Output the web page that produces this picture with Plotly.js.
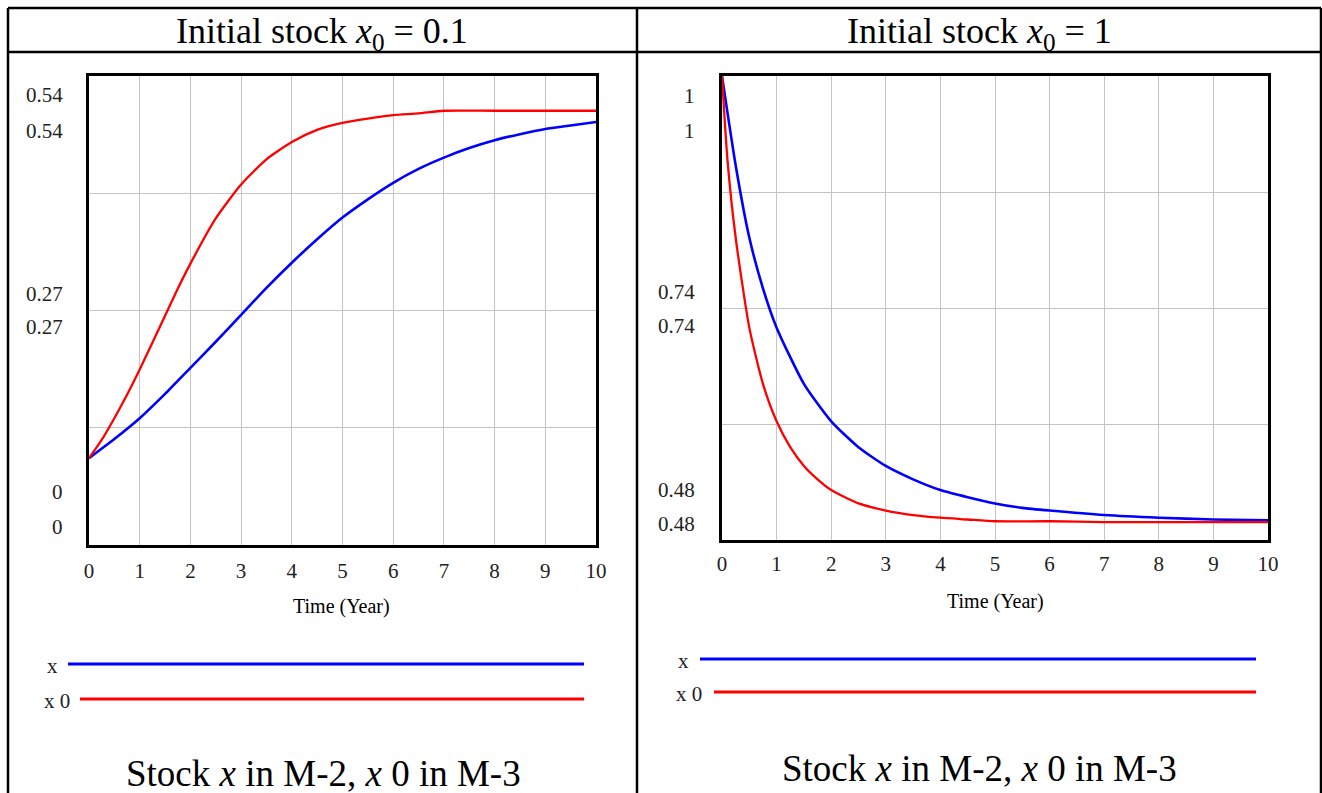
<!DOCTYPE html>
<html>
<head>
<meta charset="utf-8">
<script src="https://cdn.plot.ly/plotly-3.0.1.min.js"></script>
<style>
  html, body { margin: 0; padding: 0; background: #fff; }
  #chart { width: 1322px; height: 793px; }
</style>
</head>
<body>
<div id="chart"></div>
<script>
// ---------------- DATA ----------------
// Left panel: initial stock x0 = 0.1
const timeLeftRed  = [0, 0.25, 0.5, 0.75, 1, 1.25, 1.5, 1.75, 2, 2.5, 3, 3.5, 4, 4.5, 5, 5.5, 6, 6.5, 7, 8, 9, 10];
const leftX0       = [0.100, 0.121, 0.146, 0.173, 0.202, 0.233, 0.264, 0.295, 0.324, 0.376, 0.415, 0.444, 0.464, 0.478, 0.486, 0.491, 0.495, 0.497, 0.500, 0.500, 0.500, 0.500];
const timeLeftBlue = [0, 0.5, 1, 1.5, 2, 2.5, 3, 3.5, 4, 4.5, 5, 5.5, 6, 6.5, 7, 7.5, 8, 8.5, 9, 9.5, 10];
const leftX        = [0.100, 0.122, 0.146, 0.174, 0.204, 0.234, 0.265, 0.296, 0.325, 0.352, 0.377, 0.398, 0.417, 0.433, 0.446, 0.457, 0.466, 0.473, 0.479, 0.483, 0.487];

// Right panel: initial stock x0 = 1
const timeRightRed  = [0, 0.1, 0.25, 0.5, 0.75, 1, 1.25, 1.5, 1.75, 2, 2.5, 3, 3.5, 4, 4.5, 5, 6, 7, 8, 9, 10];
const rightX0       = [1.000, 0.906, 0.819, 0.718, 0.655, 0.613, 0.584, 0.563, 0.548, 0.536, 0.521, 0.513, 0.508, 0.505, 0.503, 0.501, 0.501, 0.500, 0.500, 0.500, 0.500];
const timeRightBlue = [0, 0.25, 0.5, 0.75, 1, 1.5, 2, 2.5, 3, 3.5, 4, 4.5, 5, 5.5, 6, 7, 8, 9, 10];
const rightX        = [1.000, 0.900, 0.819, 0.762, 0.718, 0.655, 0.613, 0.584, 0.563, 0.548, 0.536, 0.528, 0.521, 0.516, 0.513, 0.508, 0.505, 0.503, 0.502];

// Tick labels
const xTickVals      = [0, 1, 2, 3, 4, 5, 6, 7, 8, 9, 10];
const leftYLabels    = ["0.54", "0.54", "0.27", "0.27", "0", "0"];
const rightYLabels   = ["1", "1", "0.74", "0.74", "0.48", "0.48"];
const leftYRange     = [0, 0.54];
const rightYRange    = [0.48, 1];
const leftGridVals   = [0, 0.135, 0.27, 0.405, 0.54];
const rightGridVals  = [0.48, 0.61, 0.74, 0.87, 1];

// Texts
const seriesNames   = ["x", "x 0"];
const headerLeft    = "Initial stock <i>x</i><sub>0</sub> = 0.1";
const headerRight   = "Initial stock <i>x</i><sub>0</sub> = 1";
const captionText   = "Stock <i>x</i> in M-2, <i>x</i> 0 in M-3";
const xTitleText    = "Time (Year)";

// ---------------- LAYOUT HELPERS ----------------
const W = 1322, H = 793;
const px = v => v / W;
const py = v => 1 - v / H;

const BLUE = "#0000ff", RED = "#ff0000";
const serif = "Liberation Serif, Times New Roman, serif";
const tickFont = { family: serif, size: 21, color: "#222" };

const traces = [
  { x: timeLeftBlue, y: leftX, xaxis: "x", yaxis: "y", mode: "lines", name: seriesNames[0],
    line: { color: BLUE, width: 2.6, shape: "spline", smoothing: 0.6 }, showlegend: false, hoverinfo: "skip" },
  { x: timeLeftRed, y: leftX0, xaxis: "x", yaxis: "y", mode: "lines", name: seriesNames[1],
    line: { color: RED, width: 2.3, shape: "spline", smoothing: 0.6 }, showlegend: false, hoverinfo: "skip" },
  { x: timeRightBlue, y: rightX, xaxis: "x2", yaxis: "y2", mode: "lines", name: seriesNames[0],
    line: { color: BLUE, width: 2.6, shape: "spline", smoothing: 0.6 }, showlegend: false, hoverinfo: "skip" },
  { x: timeRightRed, y: rightX0, xaxis: "x2", yaxis: "y2", mode: "lines", name: seriesNames[1],
    line: { color: RED, width: 2.3, shape: "spline", smoothing: 0.6 }, showlegend: false, hoverinfo: "skip" }
];

function xAxis(domain, anchor, ticklen) {
  return {
    domain: domain, anchor: anchor, range: [0, 10],
    tickmode: "array", tickvals: xTickVals, ticktext: xTickVals.map(String),
    showgrid: true, gridcolor: "#c4c4c4", gridwidth: 1, zeroline: false,
    showline: true, mirror: true, linecolor: "#000", linewidth: 3,
    ticks: "outside", ticklen: ticklen, tickcolor: "rgba(0,0,0,0)",
    tickfont: tickFont, fixedrange: true
  };
}
function yAxis(domain, anchor, range, grid) {
  return {
    domain: domain, anchor: anchor, range: range,
    tickmode: "array", tickvals: grid, showticklabels: false,
    showgrid: true, gridcolor: "#c4c4c4", gridwidth: 1, zeroline: false,
    showline: true, mirror: true, linecolor: "#000", linewidth: 3,
    ticks: "", fixedrange: true
  };
}

// Panel geometry (pixels)
const L = { x0: 89, x1: 596, y0: 76, y1: 545 };
const R = { x0: 722, x1: 1268, y0: 76, y1: 540 };

const annotations = [];
function ann(text, x, y, size, xanchor, extra) {
  annotations.push(Object.assign({
    text: text, xref: "paper", yref: "paper", x: px(x), y: py(y),
    xanchor: xanchor || "center", yanchor: "middle", showarrow: false,
    font: { family: serif, size: size, color: "#000" }
  }, extra || {}));
}

// headers
ann(headerLeft, 322, 34, 36);
ann(headerRight, 979, 34, 36);
// captions
ann(captionText, 323, 773, 37);
ann(captionText, 979, 768, 37);
// axis titles
ann(xTitleText, 342, 606, 20);
ann(xTitleText, 995, 601, 20);
// y tick labels (stacked, one per series)
const leftYLabelPos  = [95, 131, 294, 327, 492, 527];
const rightYLabelPos = [96, 131, 292, 326, 490, 524];
leftYLabels.forEach((t, i) => ann(t, 65, leftYLabelPos[i], 21, "right", { font: tickFont }));
rightYLabels.forEach((t, i) => ann(t, 697, rightYLabelPos[i], 21, "right", { font: tickFont }));
// legend labels
ann(seriesNames[0], 52, 666, 21, "center", { font: tickFont });
ann(seriesNames[1], 57, 701, 21, "center", { font: tickFont });
ann(seriesNames[0], 684, 661, 21, "center", { font: tickFont });
ann(seriesNames[1], 689, 694, 21, "center", { font: tickFont });

// table lines + legend swatches
const shapes = [];
function line(x0, y0, x1, y1, color, width) {
  shapes.push({ type: "line", xref: "paper", yref: "paper",
    x0: px(x0), y0: py(y0), x1: px(x1), y1: py(y1),
    line: { color: color, width: width } });
}
line(8, 8, 1321, 8, "#000", 2.5);
line(8, 52, 1321, 52, "#000", 2.5);
line(8, 8, 8, 793, "#000", 2.5);
line(1321, 8, 1321, 793, "#000", 2.5);
line(637, 8, 637, 793, "#000", 2.5);
// legend lines
line(68, 664, 584, 664, BLUE, 3);
line(80, 699, 584, 699, RED, 3);
line(700, 659, 1256, 659, BLUE, 3);
line(714, 692, 1256, 692, RED, 3);

const layout = {
  width: W, height: H,
  margin: { l: 0, r: 0, t: 0, b: 0 },
  paper_bgcolor: "#fff", plot_bgcolor: "#fff",
  showlegend: false,
  xaxis:  xAxis([px(L.x0), px(L.x1)], "y", 5),
  yaxis:  yAxis([py(L.y1), py(L.y0)], "x", leftYRange, leftGridVals),
  xaxis2: xAxis([px(R.x0), px(R.x1)], "y2", 3),
  yaxis2: yAxis([py(R.y1), py(R.y0)], "x2", rightYRange, rightGridVals),
  annotations: annotations,
  shapes: shapes
};

Plotly.newPlot("chart", traces, layout, { staticPlot: true, displayModeBar: false });
</script>
</body>
</html>
